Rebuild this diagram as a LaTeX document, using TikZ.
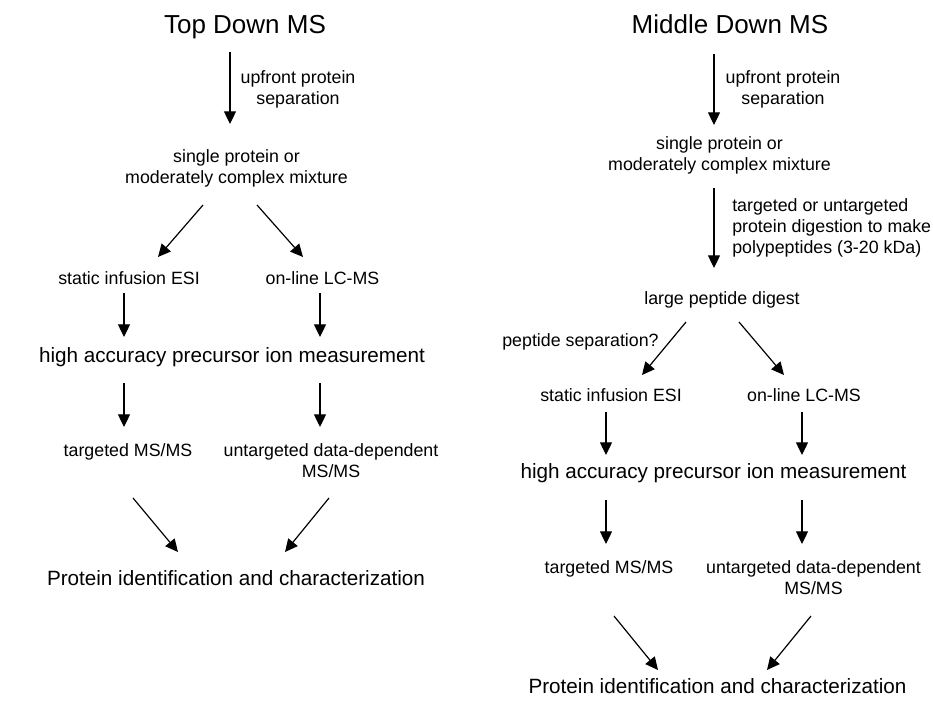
\documentclass[tikz,border=0pt]{standalone}
\usepackage{fontspec}
\setmainfont{Liberation Sans}
\usetikzlibrary{arrows.meta}
\begin{document}
\begin{tikzpicture}[x=0.75pt,y=-0.75pt,
  small/.style={font=\fontsize{13.35pt}{15.75pt}\selectfont, inner sep=0pt},
  large/.style={font=\fontsize{15.5pt}{18pt}\selectfont, inner sep=0pt},
  titlef/.style={font=\fontsize{19.5pt}{23pt}\selectfont, inner sep=0pt},
  arr/.style={-{Triangle[width=9pt,length=9.5pt]}, line width=0.9pt}]
\useasboundingbox (0,0) rectangle (933,704);
% ---------- Top Down MS ----------
\node[titlef, anchor=base] (tdt) at (245,33) {Top Down MS};
\node[small, align=center, anchor=north] (tdup) at (298,70.5) {upfront protein\\separation};
\node[small, align=center, anchor=north] (tdsp) at (236.5,149.6) {single protein or\\moderately complex mixture};
\node[small, anchor=base] (tdesi) at (129,284.6) {static infusion ESI};
\node[small, anchor=base] (tdlc) at (322.5,284.6) {on-line LC-MS};
\node[large, anchor=base] (tdhpm) at (232,362.4) {high accuracy precursor ion measurement};
\node[small, anchor=base] (tdtms) at (128,456.6) {targeted MS/MS};
\node[small, align=center, anchor=north] (tdums) at (331,443.6) {untargeted data-dependent\\MS/MS};
\node[large, anchor=base] (tdpic) at (236,585.4) {Protein identification and characterization};
\draw[arr] ([shift={(-15,19)}]tdt.base) -- ([shift={(-6.5,-25.6)}]tdsp.north);
\draw[arr] ([shift={(-33.5,55.4)}]tdsp.north) -- ([shift={(29,-27.6)}]tdesi.base);
\draw[arr] ([shift={(20.5,55.4)}]tdsp.north) -- ([shift={(-19.5,-27.6)}]tdlc.base);
\draw[arr] ([shift={(-5,8.4)}]tdesi.base) -- ([shift={(-108,-25.4)}]tdhpm.base);
\draw[arr] ([shift={(-2.5,8.4)}]tdlc.base) -- ([shift={(88,-25.4)}]tdhpm.base);
\draw[arr] ([shift={(-108,20.6)}]tdhpm.base) -- ([shift={(-4,-29.6)}]tdtms.base);
\draw[arr] ([shift={(88,20.6)}]tdhpm.base) -- ([shift={(-11,-16.6)}]tdums.north);
\draw[arr] ([shift={(5,41.4)}]tdtms.base) -- ([shift={(-58,-33.4)}]tdpic.base);
\draw[arr] ([shift={(-2,54.4)}]tdums.north) -- ([shift={(49,-33.4)}]tdpic.base);
% ---------- Middle Down MS ----------
\node[titlef, anchor=base] (mdt) at (730,33) {Middle Down MS};
\node[small, align=center, anchor=north] (mdup) at (783,70.6) {upfront protein\\separation};
\node[small, align=center, anchor=north] (mdsp) at (719.5,136.6) {single protein or\\moderately complex mixture};
\node[small, align=left, anchor=north west] (mddig) at (732,198.6) {targeted or untargeted\\protein digestion to make\\polypeptides (3-20 kDa)};
\node[small, anchor=base] (mdlpd) at (722,304.6) {large peptide digest};
\node[small, anchor=base] (mdps) at (580.5,346.6) {peptide separation?};
\node[small, anchor=base] (mdesi) at (611,401.6) {static infusion ESI};
\node[small, anchor=base] (mdlc) at (804,401.6) {on-line LC-MS};
\node[large, anchor=base] (mdhpm) at (713.5,478.4) {high accuracy precursor ion measurement};
\node[small, anchor=base] (mdtms) at (609,573.6) {targeted MS/MS};
\node[small, align=center, anchor=north] (mdums) at (813.5,560.6) {untargeted data-dependent\\MS/MS};
\node[large, anchor=base] (mdpic) at (717.5,693.4) {Protein identification and characterization};
\draw[arr] ([shift={(-16,21)}]mdt.base) -- ([shift={(-5.5,-11.6)}]mdsp.north);
\draw[arr] ([shift={(-5.5,51.4)}]mdsp.north) -- ([shift={(-8,-36.6)}]mdlpd.base);
\draw[arr] ([shift={(-36,17.4)}]mdlpd.base) -- ([shift={(31,-26.6)}]mdesi.base);
\draw[arr] ([shift={(17,17.4)}]mdlpd.base) -- ([shift={(-20,-26.6)}]mdlc.base);
\draw[arr] ([shift={(-5,10.4)}]mdesi.base) -- ([shift={(-107.5,-23.4)}]mdhpm.base);
\draw[arr] ([shift={(-2,10.4)}]mdlc.base) -- ([shift={(88.5,-23.4)}]mdhpm.base);
\draw[arr] ([shift={(-107.5,21.6)}]mdhpm.base) -- ([shift={(-3,-29.6)}]mdtms.base);
\draw[arr] ([shift={(88.5,21.6)}]mdhpm.base) -- ([shift={(-11.5,-16.6)}]mdums.north);
\draw[arr] ([shift={(5,42.4)}]mdtms.base) -- ([shift={(-59.5,-23.4)}]mdpic.base);
\draw[arr] ([shift={(-2.5,55.4)}]mdums.north) -- ([shift={(49.5,-23.4)}]mdpic.base);
\end{tikzpicture}
\end{document}
